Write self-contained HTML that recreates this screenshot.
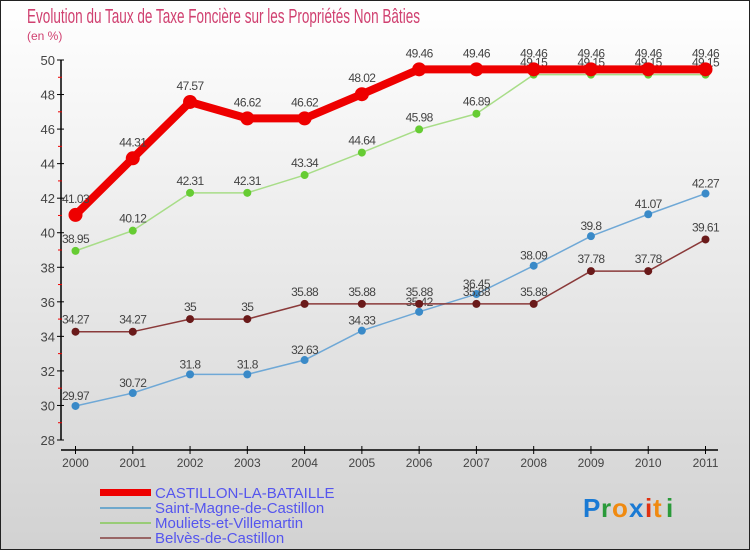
<!DOCTYPE html>
<html><head><meta charset="utf-8"><style>
html,body{margin:0;padding:0;width:750px;height:550px;overflow:hidden}
svg{display:block;font-family:"Liberation Sans",sans-serif}
</style></head><body>
<svg id="chart" width="750" height="550" viewBox="0 0 750 550">
<defs><linearGradient id="bg" x1="0" y1="0" x2="0" y2="1"><stop offset="0" stop-color="#ffffff"/><stop offset="1" stop-color="#d2d2d2"/></linearGradient></defs>
<rect x="0.5" y="0.5" width="749" height="549" fill="url(#bg)" stroke="#222"/>
<text x="27" y="23" font-size="20" fill="#d04070" textLength="393" lengthAdjust="spacingAndGlyphs">Evolution du Taux de Taxe Foncière sur les Propriétés Non Bâties</text>
<text x="27" y="40" font-size="12" fill="#d04070">(en %)</text>
<g id="axes"></g>
<g id="series"></g>
<g id="legend">
<rect x="100" y="489" width="51" height="7" fill="#ee0000"/>
<text x="155" y="498" font-size="15" fill="#5555ee">CASTILLON-LA-BATAILLE</text>
<rect x="100" y="507" width="51" height="2" fill="#6fa8cc"/>
<text x="155" y="513" font-size="15" fill="#5555ee">Saint-Magne-de-Castillon</text>
<rect x="100" y="522" width="51" height="2" fill="#99cc77"/>
<text x="155" y="528" font-size="15" fill="#5555ee">Mouliets-et-Villemartin</text>
<rect x="100" y="537" width="51" height="2" fill="#996666"/>
<text x="155" y="543" font-size="15" fill="#5555ee">Belvès-de-Castillon</text>
</g>
<g font-size="26" font-weight="bold">
<text x="583" y="517" fill="#1a7ad4">P</text><text x="601" y="517" fill="#2a9a3a">r</text><text x="612" y="517" fill="#f08a10">o</text><text x="629" y="517" fill="#1a7ad4">x</text><text x="645" y="517" fill="#e03010">i</text><text x="653" y="517" fill="#f08a10">t</text><text x="666" y="517" fill="#2a9a3a">i</text>
</g>
</svg>
<script>
const years = ["2000","2001","2002","2003","2004","2005","2006","2007","2008","2009","2010","2011"];
const castillon = [41.03,44.31,47.57,46.62,46.62,48.02,49.46,49.46,49.46,49.46,49.46,49.46];
const saintMagne = [29.97,30.72,31.8,31.8,32.63,34.33,35.42,36.45,38.09,39.8,41.07,42.27];
const mouliets = [38.95,40.12,42.31,42.31,43.34,44.64,45.98,46.89,49.15,49.15,49.15,49.15];
const belves = [34.27,34.27,35,35,35.88,35.88,35.88,35.88,35.88,37.78,37.78,39.61];
const yTicks = [28,30,32,34,36,38,40,42,44,46,48,50];

const NS = "http://www.w3.org/2000/svg";
const X = i => 75.5 + i * (630 / 11);
const Y = v => 440 - (v - 28) * (380 / 22);
function mk(tag, attrs, parent){const e=document.createElementNS(NS,tag);for(const k in attrs)e.setAttribute(k,attrs[k]);parent.appendChild(e);return e;}
const axes = document.getElementById("axes");
const series = document.getElementById("series");

let yl = mk("line",{x1:61,y1:Y(50),x2:61,y2:Y(28),stroke:"#000","stroke-width":1.5},axes);


yTicks.forEach(t=>{
  let tk = mk("line",{x1:57,y1:Y(t),x2:64,y2:Y(t),stroke:"#000"},axes);
  
  
  if(t<50){let m=mk("line",{x1:58,y1:Y(t+1),x2:62,y2:Y(t+1),stroke:"#e00"},axes);
  
  }
  let lb = mk("text",{x:55,y:Y(t)+5,"font-size":13,fill:"#444","text-anchor":"end"},axes);
  lb.textContent=t;
  
  
});
let xl = mk("line",{x1:61,y1:450,x2:718,y2:450,stroke:"#000","stroke-width":1.5},axes);


years.forEach((y,i)=>{
  let tk = mk("line",{x1:X(i),y1:446,x2:X(i),y2:454,stroke:"#000"},axes);
  
  
  let lb = mk("text",{x:X(i),y:467,"font-size":12,fill:"#444","text-anchor":"middle"},axes);
  lb.textContent=y;
  
  
});

function draw(vals,name,color,dot,lw,r,labelDy){
  const g = mk("g",{},series);
  
  
  const pl = mk("polyline",{points:vals.map((v,i)=>X(i)+","+Y(v)).join(" "),fill:"none",stroke:color,"stroke-width":lw,"stroke-linejoin":"round"},g);
  
  
  vals.forEach((v,i)=>{
    const c = mk("circle",{cx:X(i),cy:Y(v),r:r,fill:dot},g);
    
    
    const t = mk("text",{x:X(i),y:Y(v)+labelDy,"font-size":12,fill:"#444","text-anchor":"middle","letter-spacing":"-0.6"},g);
    t.textContent = String(v);
    
    
  });
}
draw(saintMagne,"saint-magne","#6fa8d6","#3a8ac8",1.5,4,-6);
draw(belves,"belves","#8a3a3a","#6a1a1a",1.5,4,-8);
draw(mouliets,"mouliets","#a8dd88","#66cc33",1.5,4,-8);
draw(castillon,"castillon","#ee0000","#ee0000",8,7,-12);
</script>
</body></html>
